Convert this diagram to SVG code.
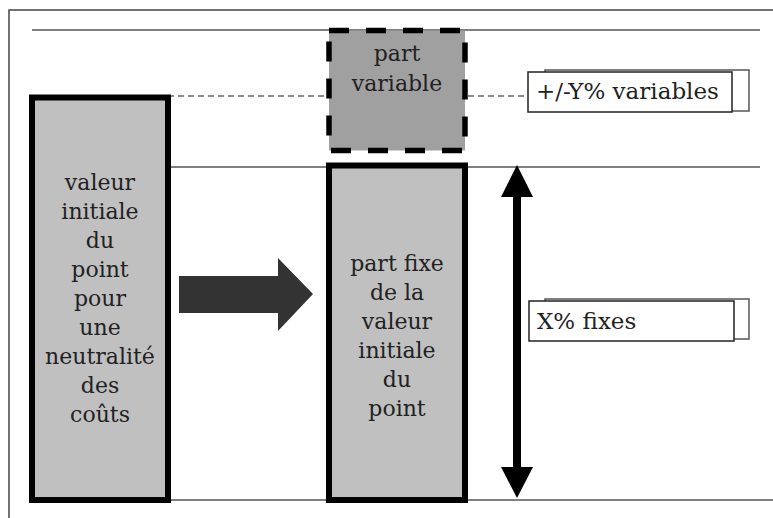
<svg xmlns="http://www.w3.org/2000/svg" width="773" height="518" viewBox="0 0 773 518">
<style>
.t{font-family:'DejaVu Serif',serif;font-size:22px;fill:#222;text-anchor:middle}
.lbl{font-family:'DejaVu Serif',serif;font-size:23px;fill:#222}
.guide{stroke:#555;stroke-width:1.5;fill:none}
.box{fill:#c0c0c0;stroke:#000;stroke-width:6}
.back{fill:#fff;stroke:#555;stroke-width:1.5}
.front{fill:#fff;stroke:#222;stroke-width:1.5}
</style>
<rect width="773" height="518" fill="#fff"/>
<g id="frame">
<path d="M9,518 V10 H773" fill="none" stroke="#444" stroke-width="1.5"/>
</g>
<g id="guides">
<line x1="32" y1="30" x2="760" y2="30" class="guide"/>
<line x1="168" y1="167" x2="760" y2="167" class="guide"/>
<line x1="168" y1="500" x2="773" y2="500" class="guide"/>
<line x1="168" y1="96" x2="528" y2="96" stroke="#666" stroke-width="1.5" stroke-dasharray="6 4"/>
</g>
<g id="valeur-initiale">
<rect x="32" y="97.5" width="136" height="402.5" class="box"/>
<text class="t" x="100"><tspan x="100" y="190">valeur</tspan><tspan x="100" y="219">initiale</tspan><tspan x="100" y="248">du</tspan><tspan x="100" y="277">point</tspan><tspan x="100" y="306">pour</tspan><tspan x="100" y="335">une</tspan><tspan x="100" y="364">neutralité</tspan><tspan x="100" y="393">des</tspan><tspan x="100" y="422">coûts</tspan></text>
</g>
<g id="part-variable">
<rect x="329" y="30.5" width="136" height="120" fill="#a0a0a0" stroke="#000" stroke-width="5.5" stroke-dasharray="20 17"/>
<text class="t" x="397"><tspan x="397" y="61">part</tspan><tspan x="397" y="91">variable</tspan></text>
</g>
<g id="part-fixe">
<rect x="329" y="165.5" width="136" height="334.5" class="box"/>
<text class="t" x="397"><tspan x="397" y="271">part fixe</tspan><tspan x="397" y="300">de la</tspan><tspan x="397" y="329">valeur</tspan><tspan x="397" y="358">initiale</tspan><tspan x="397" y="387">du</tspan><tspan x="397" y="416">point</tspan></text>
</g>
<g id="label-variables">
<rect x="545" y="70" width="204" height="41" class="back"/>
<rect x="528" y="72" width="204" height="40" class="front"/>
<text class="lbl" x="536" y="99">+/-Y% variables</text>
</g>
<g id="label-fixes">
<rect x="545" y="299" width="204" height="40" class="back"/>
<rect x="529" y="301" width="205" height="40" class="front"/>
<text class="lbl" x="537" y="329">X% fixes</text>
</g>
<g id="connectors">
<polygon points="179,276 278,276 278,258 313,294 278,331 278,313 179,313" fill="#333"/>
<rect x="513" y="195" width="8" height="274" fill="#000"/>
<polygon points="517,165 501,197 533,197" fill="#000"/>
<polygon points="517,498 501,467 533,467" fill="#000"/>
</g>
</svg>
